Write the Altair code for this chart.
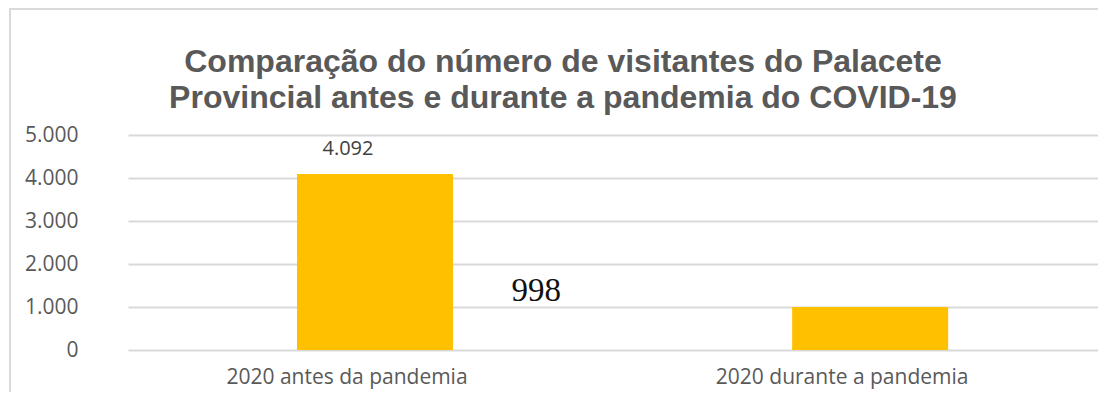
import altair as alt
import pandas as pd

categories = ["2020 antes da pandemia", "2020 durante a pandemia"]
values = [4092, 998]
label_texts = ["4.092", "998"]

df = pd.DataFrame({"periodo": categories, "visitantes": values, "rotulo": label_texts})

title_lines = ["Comparação do número de visitantes do Palacete",
               "Provincial antes e durante a pandemia do COVID-19"]

W, H = 970, 215

x_scale = alt.Scale(paddingInner=0.685, paddingOuter=0.322, align=0.53)

x_enc = alt.X("periodo:N", sort=categories, title=None, scale=x_scale,
              axis=alt.Axis(labelAngle=0, ticks=False, domain=False, labelFont="Open Sans",
                            labelFontSize=21, labelColor="#595959", labelPadding=16,
                            labelLimit=400, labelOffset=-28))
y_enc = alt.Y("visitantes:Q", title=None,
              scale=alt.Scale(domain=[0, 5000], nice=False),
              axis=alt.Axis(values=[0, 1000, 2000, 3000, 4000, 5000], ticks=False, domain=False,
                            labelExpr="replace(format(datum.value, ','), ',', '.')",
                            labelFont="Open Sans", labelFontSize=21, labelColor="#595959",
                            labelPadding=50, gridColor="#d9d9d9", gridWidth=2))

base = alt.Chart(df)

bars = base.mark_bar(color="#FFC000").encode(x=x_enc, y=y_enc)

lab1 = base.transform_filter(alt.datum.periodo == categories[0]).mark_text(
    font="Open Sans", fontSize=20, color="#404040", baseline="middle", dx=-27, dy=-25
).encode(x=alt.X("periodo:N", sort=categories, scale=x_scale), y="visitantes:Q", text="rotulo:N")

lab2 = base.transform_filter(alt.datum.periodo == categories[1]).mark_text(
    font="Liberation Serif", fontSize=33, color="#111111", baseline="middle", dx=-334, dy=-16
).encode(x=alt.X("periodo:N", sort=categories, scale=x_scale), y="visitantes:Q", text="rotulo:N")

border = base.mark_rect(fill="transparent", stroke="#d9d9d9", strokeWidth=2).encode(
    x=alt.value(-118), x2=alt.value(1100), y=alt.value(-126), y2=alt.value(300))

chart = alt.layer(border, bars, lab1, lab2).properties(
    width=W, height=H,
    title=alt.TitleParams(text=title_lines, font="Liberation Sans", fontSize=32, fontWeight="bold",
                          color="#595959", anchor="middle", dx=-50, offset=-107, lineHeight=36),
    autosize=alt.AutoSizeParams(type="none"),
    padding={"left": 120, "top": 127, "right": 0, "bottom": 42},
).configure(background="white").configure_view(stroke=None)

chart.save("out.html", embed_options={"renderer": "svg", "actions": False})
